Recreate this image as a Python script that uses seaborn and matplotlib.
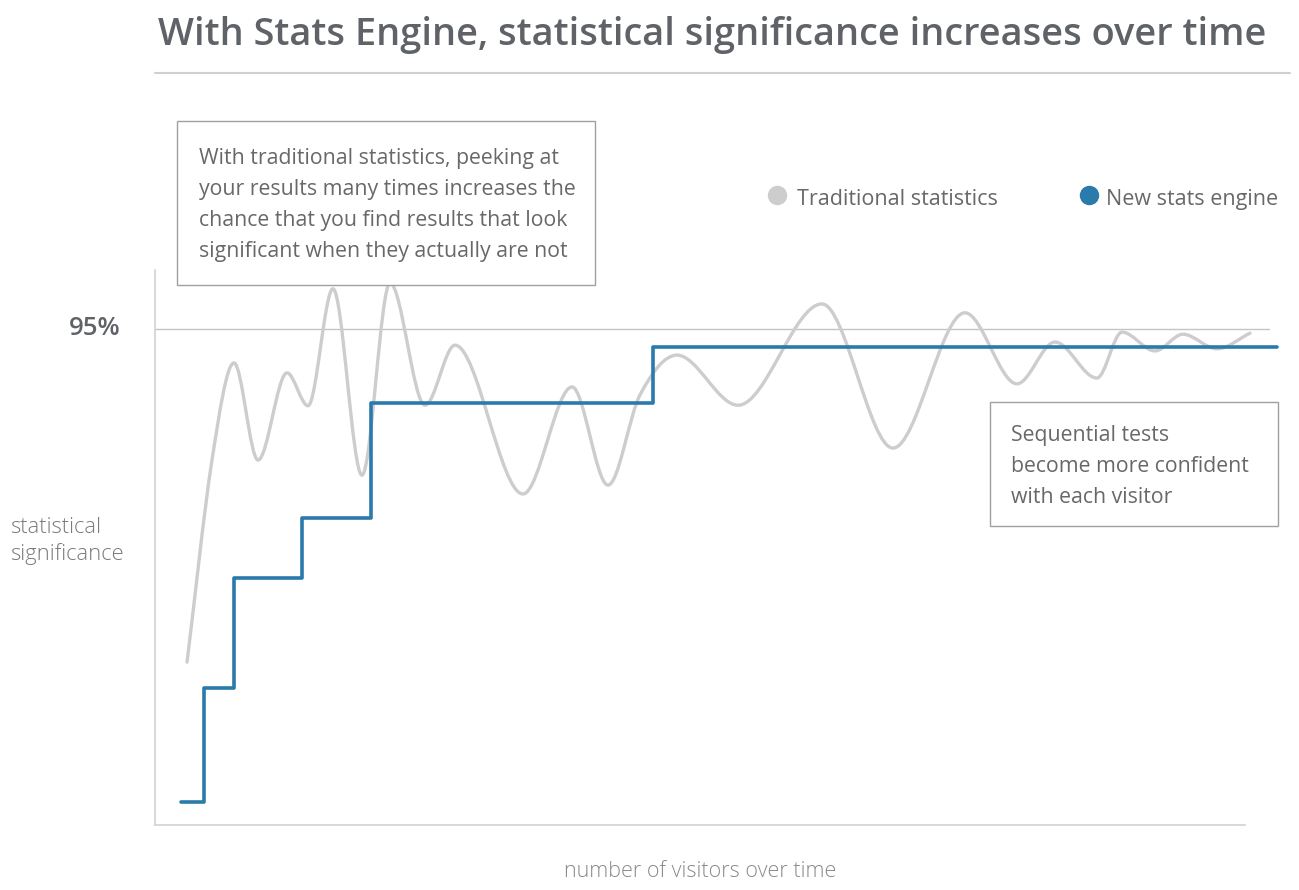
import matplotlib.pyplot as plt
import numpy as np
import pandas as pd
import seaborn as sns
from matplotlib.path import Path
from matplotlib.patches import PathPatch, Rectangle
from matplotlib.lines import Line2D

# 传统统计：曲线上读出的点（访客数, 显著性%）
trad_x = [2.94, 5.23, 7.25, 9.45, 12.11, 14.04, 16.33, 18.99, 21.56, 24.77,
          27.52, 33.76, 38.26, 41.56, 44.50, 47.89, 53.49, 61.19, 67.71, 74.31,
          79.08, 82.57, 86.42, 88.72, 91.74, 94.31, 97.43, 100.46]
trad_y = [31.2, 69.9, 88.5, 69.9, 86.6, 80.3, 102.7, 67.0, 103.8, 80.4,
          91.9, 63.4, 83.9, 65.1, 82.4, 90.0, 80.4, 99.8, 72.2, 98.1,
          84.5, 92.5, 85.6, 94.4, 90.8, 94.0, 91.2, 94.2]

# 新统计引擎：阶梯
engine_x = [2.4, 4.5, 7.25, 13.5, 19.8, 45.7, 102.9]
engine_y = [4.4, 26.2, 47.3, 58.8, 80.8, 91.6, 91.6]

threshold = 95

title = 'With Stats Engine, statistical significance increases over time'
note_left = ['With traditional statistics, peeking at',
             'your results many times increases the',
             'chance that you find results that look',
             'significant when they actually are not']
note_right = ['Sequential tests', 'become more confident', 'with each visitor']
legend_labels = ['Traditional statistics', 'New stats engine']

GRAY = '#cdcdcd'
BLUE = '#2a7bab'
TXT = '#5f6368'
BODY = '#686868'

sns.set_theme(style='white')
plt.rcParams['font.family'] = ['Open Sans', 'DejaVu Sans']

W, H = 1299, 890
fig = plt.figure(figsize=(W / 100, H / 100), dpi=100)


def fx(px):
    return px / W


def fy(py):
    return 1 - py / H


ax = fig.add_axes([fx(155), fy(825), (1290 - 155) / W, (825 - 270) / H])


def smooth_path(xs, ys):
    # 三次 Hermite 曲线，极值点切线水平
    xs = np.asarray(xs, float)
    ys = np.asarray(ys, float)
    n = len(xs)
    m = np.zeros(n)
    for i in range(n):
        if i == 0:
            m[i] = (ys[1] - ys[0]) / (xs[1] - xs[0])
        elif i == n - 1:
            m[i] = (ys[-1] - ys[-2]) / (xs[-1] - xs[-2])
        elif (ys[i] - ys[i - 1]) * (ys[i + 1] - ys[i]) < 0:
            m[i] = 0
        else:
            m[i] = (ys[i + 1] - ys[i - 1]) / (xs[i + 1] - xs[i - 1])
    verts = [(xs[0], ys[0])]
    codes = [Path.MOVETO]
    for i in range(n - 1):
        d = xs[i + 1] - xs[i]
        verts += [(xs[i] + d / 3, ys[i] + m[i] * d / 3),
                  (xs[i + 1] - d / 3, ys[i + 1] - m[i + 1] * d / 3),
                  (xs[i + 1], ys[i + 1])]
        codes += [Path.CURVE4] * 3
    return Path(verts, codes)


ax.add_patch(PathPatch(smooth_path(trad_x, trad_y), facecolor='none',
                       edgecolor=GRAY, lw=2.4, capstyle='round', zorder=2))

# 95% 参考线
ax.plot([0, 102.2], [threshold, threshold], color='#c4c4c4', lw=1.0, zorder=1)

steps = pd.DataFrame({'visitors': engine_x, 'significance': engine_y})
sns.lineplot(data=steps, x='visitors', y='significance', ax=ax,
             drawstyle='steps-post', color=BLUE, lw=2.6, estimator=None, zorder=3)

ax.set_xlim(0, 104.13)
ax.set_ylim(0, 106.3)
ax.set_xticks([])
ax.set_yticks([])
ax.set_xlabel('')
ax.set_ylabel('')
for s in ['top', 'right']:
    ax.spines[s].set_visible(False)
for s in ['left', 'bottom']:
    ax.spines[s].set_color('#d2d2d2')
    ax.spines[s].set_linewidth(1.2)
ax.spines['bottom'].set_bounds(0, 100)

# 标题与分隔线
fig.text(fx(712), fy(45), title, ha='center', va='baseline',
         fontsize=27.4, fontweight='semibold', color=TXT)
fig.add_artist(Line2D([fx(155), fx(1290)], [fy(73), fy(73)], color='#d0d0d0', lw=1.5))

# 左上说明框
fig.add_artist(Rectangle((fx(177), fy(285)), fx(595) - fx(177), fy(121) - fy(285),
                         facecolor='white', edgecolor='#a0a0a0', lw=1.0, zorder=5))
for i, line in enumerate(note_left):
    fig.text(fx(199), fy(164 + 31 * i), line, ha='left', va='baseline',
             fontsize=15.3, color=BODY, zorder=6)

# 右侧说明框
fig.add_artist(Rectangle((fx(990), fy(526)), fx(1278) - fx(990), fy(402) - fy(526),
                         facecolor='white', edgecolor='#a0a0a0', lw=1.0, zorder=5))
for i, line in enumerate(note_right):
    fig.text(fx(1011), fy(441 + 31 * i), line, ha='left', va='baseline',
             fontsize=15.3, color=BODY, zorder=6)

# 图例
for (cx, tx), lab, c in zip([(777, 797), (1089, 1106)], legend_labels, [GRAY, BLUE]):
    fig.add_artist(Line2D([fx(cx)], [fy(195)], marker='o', markersize=14,
                          color=c, markeredgewidth=0))
    fig.text(fx(tx), fy(205), lab, ha='left', va='baseline',
             fontsize=15.5, color=BODY)

# 坐标轴文字
fig.text(fx(121), fy(335), '95%', ha='right', va='baseline',
         fontsize=18.5, fontweight='semibold', color=TXT)
fig.text(fx(10), fy(533), 'statistical', ha='left', va='baseline',
         fontsize=15.8, color='#7a7a7a', fontweight='light')
fig.text(fx(10), fy(560), 'significance', ha='left', va='baseline',
         fontsize=15.8, color='#7a7a7a', fontweight='light')
fig.text(fx(700), fy(877), 'number of visitors over time', ha='center', va='baseline',
         fontsize=15.5, color='#8a8a8a', fontweight='light')

plt.savefig('out.png', dpi=100)
